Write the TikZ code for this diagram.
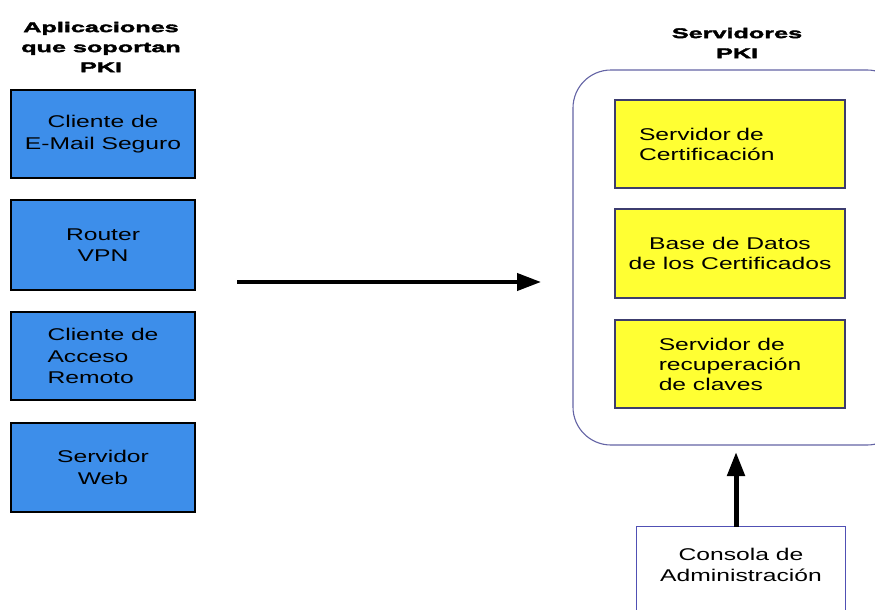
\documentclass[tikz,border=0pt]{standalone}
\usepackage{fontspec}
\setmainfont{Liberation Sans}
\newfontfamily\bodyfont[FakeStretch=1.45]{Liberation Sans}
\newfontfamily\headfont[FakeStretch=1.8,FakeBold=2.6]{Liberation Sans Bold}
\usetikzlibrary{arrows.meta}
\definecolor{appblue}{RGB}{61,142,234}
\definecolor{srvyellow}{RGB}{255,255,51}
\definecolor{srvedge}{RGB}{60,60,110}
\definecolor{groupedge}{RGB}{100,100,165}
\definecolor{consedge}{RGB}{80,80,180}
\tikzset{
  heading/.style={align=center, font=\headfont\fontsize{14}{20}\selectfont},
  appbox/.style={draw=black, line width=1.4pt, fill=appblue, minimum width=184, align=center,
    font=\bodyfont\fontsize{17}{21.5}\selectfont},
  srvbox/.style={draw=srvedge, line width=1.3pt, fill=srvyellow, minimum width=230, minimum height=88,
    font=\bodyfont\fontsize{17}{20}\selectfont},
  group/.style={draw=groupedge, line width=1.1pt, rounded corners=38},
  flow/.style={line width=4pt, -{Triangle[length=24pt,width=17pt]}},
}
\begin{document}
\begin{tikzpicture}[x=1pt,y=-1pt]
\clip (0,0) rectangle (875,610);
\fill[white] (0,0) rectangle (875,610);

% client applications column
\node[heading] (apptitle) at (101,47) {Aplicaciones\\que soportan\\PKI};
\node[appbox, minimum height=88] (mail) at (103,134) {Cliente de\\E-Mail Seguro};
\node[appbox, minimum height=90] (vpn) at (103,245) {Router\\VPN};
\node[appbox, minimum height=88, align=left] (remote) at (103,356) {Cliente de\\Acceso\\Remoto};
\node[appbox, minimum height=89] (web) at (103,467.5) {Servidor\\Web};

% PKI server group
\node[heading] (srvtitle) at (737,43) {Servidores\\PKI};
\coordinate (gtl) at (573,70);
\coordinate (gbr) at (905,445);
\draw[group] (gtl) rectangle (gbr);
\node[srvbox, text width=182, inner xsep=24, align=left] (ca) at (730,144) {Servidor de\\Certificación};
\node[srvbox, align=center, minimum height=89] (db) at (730,253.5) {Base de Datos\\de los Certificados};
\node[srvbox, align=left] (kr) at (730,364) {Servidor de\\recuperación\\de claves};

% administration console (extends past the lower edge)
\node[fill=white, minimum width=208, minimum height=76, align=center,
  font=\bodyfont\fontsize{17}{21}\selectfont] (cons) at (741,565) {Consola de\\Administración};
\draw[consedge, line width=1.2pt] ([yshift=-60pt]cons.south west) -- (cons.north west)
  -- (cons.north east) -- ([yshift=-60pt]cons.south east);

% connectors
\coordinate (hfrom) at (237,282);
\coordinate (hto) at (541,282);
\draw[flow] (hfrom) -- (hto);
\coordinate (vto) at (736,452);
\draw[flow, line width=5pt] (cons.north -| vto) -- (vto);
\end{tikzpicture}
\end{document}
